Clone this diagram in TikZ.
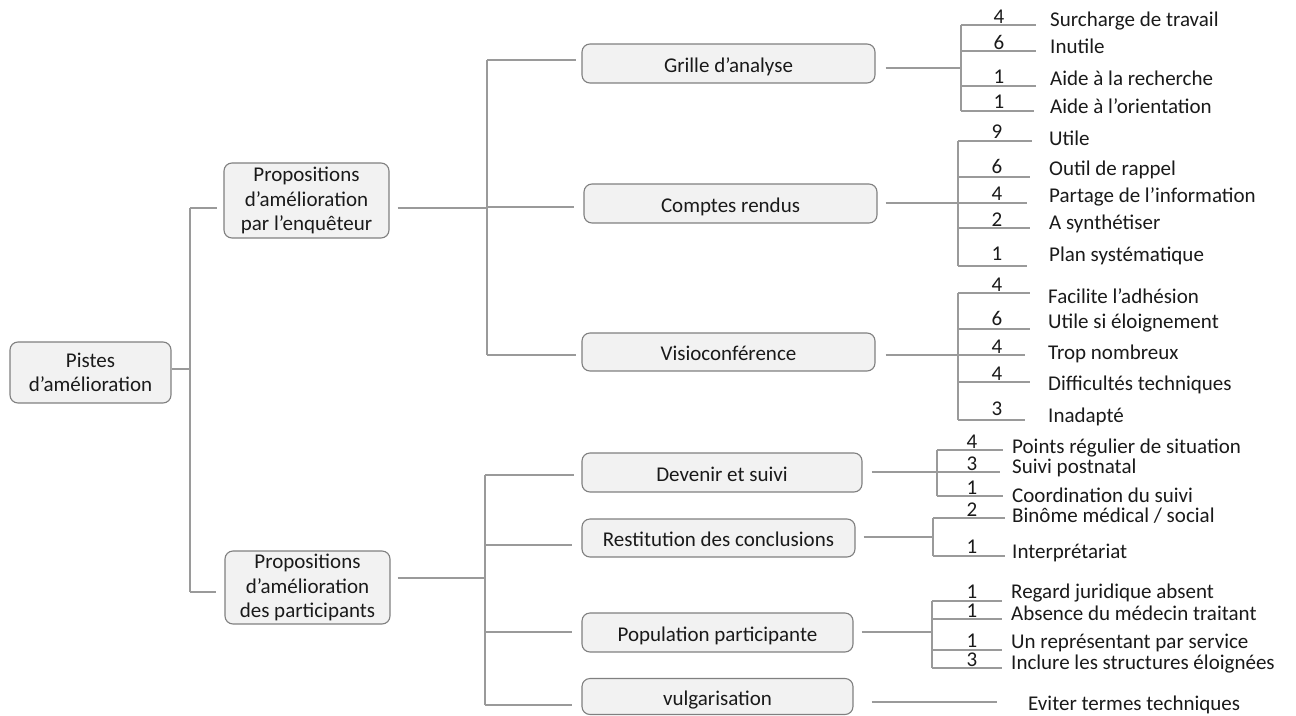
\documentclass[tikz,border=0pt]{standalone}
\usepackage{fontspec}
\setmainfont{Carlito}
\definecolor{linecol}{HTML}{9A9A9A}
\definecolor{boxborder}{HTML}{808080}
\definecolor{boxfill}{HTML}{F2F2F2}
\definecolor{txt}{HTML}{1A1A1A}
\tikzset{
  basefont/.style={font=\fontsize{21}{24.5}\selectfont, text=txt},
  box/.style={basefont, draw=boxborder, fill=boxfill, rounded corners=8pt, line width=1.1pt, inner sep=0pt, align=center},
  onebox/.style={box, text height=20pt, text depth=3pt},
  conn/.style={draw=linecol, line width=1.1pt},
  num/.style={basefont, anchor=base, inner sep=0pt},
  lbl/.style={basefont, anchor=base west, inner sep=0pt},
}
\newcommand\leafitem[9]{%
  \coordinate (#1a) at (#2,#3);
  \coordinate (#1b) at (#4,#3);
  \draw[conn] (#1a) -- (#1b);
  \node[num] (#1n) at (#5,#6) {#7};
  \node[lbl] (#1) at (\leafx,#8) {#9};
}
\begin{document}
\begin{tikzpicture}[x=1pt,y=-1pt]
\useasboundingbox (0,0) rectangle (1296,715);

% main boxes
\node[box, minimum width=161pt, minimum height=61pt] (root) at (90.5,372.5) {Pistes\\d’amélioration};
\node[box, minimum width=165pt, minimum height=75pt] (p1) at (306.5,200.5) {Propositions\\d’amélioration\\par l’enquêteur};
\node[box, minimum width=165pt, minimum height=73pt] (p2) at (307.5,587.5) {Propositions\\d’amélioration\\des participants};

\node[onebox, minimum width=293pt, minimum height=39pt] (grille) at (728.5,63.5) {Grille d’analyse};
\node[onebox, minimum width=293pt, minimum height=39pt] (comptes) at (730.5,203.5) {Comptes rendus};
\node[onebox, minimum width=293pt, minimum height=38pt] (visio) at (728.5,352) {Visioconférence};
\node[onebox, minimum width=280pt, minimum height=39pt] (devenir) at (722,472.5) {Devenir et suivi};
\node[onebox, minimum width=273pt, minimum height=38pt] (restit) at (718.5,538) {Restitution des conclusions};
\node[onebox, minimum width=271pt, minimum height=39pt] (popul) at (717.5,632.5) {Population participante};
\node[onebox, minimum width=271pt, minimum height=36pt] (vulg) at (717.5,696.5) {vulgarisation};

% root -> level 1
\coordinate (t0) at (190,369);
\coordinate (t1) at (190,208);
\coordinate (t2) at (190,592);
\draw[conn] (root.east |- t0) -- (t0);
\draw[conn] (t1) -- (t2);
\draw[conn, shorten >=6pt] (t1) -- (p1.west |- t1);
\draw[conn, shorten >=8pt] (t2) -- (p2.west |- t2);

% p1 -> level 2
\coordinate (u0) at (487,208);
\coordinate (u1) at (487,60);
\coordinate (u2) at (487,207);
\coordinate (u3) at (487,355);
\draw[conn, shorten <=8pt] (p1.east |- u0) -- (u0);
\draw[conn] (u1) -- (u3);
\draw[conn, shorten >=5pt] (u1) -- (grille.west |- u1);
\draw[conn, shorten >=9pt] (u2) -- (comptes.west |- u2);
\draw[conn, shorten >=5pt] (u3) -- (visio.west |- u3);

% p2 -> level 2
\coordinate (v0) at (485,578);
\coordinate (v1) at (485,475);
\coordinate (v2) at (485,545);
\coordinate (v3) at (485,632);
\coordinate (v4) at (485,705);
\draw[conn, shorten <=7pt] (p2.east |- v0) -- (v0);
\draw[conn] (v1) -- (v4);
\draw[conn, shorten >=7pt] (v1) -- (devenir.west |- v1);
\draw[conn, shorten >=9pt] (v2) -- (restit.west |- v2);
\draw[conn, shorten >=9pt] (v3) -- (popul.west |- v3);
\draw[conn, shorten >=9pt] (v4) -- (vulg.west |- v4);

% Grille leaves
\def\leafx{1050}
\leafitem{ga}{961}{25}{1036}{999}{23}{4}{26}{Surcharge de travail}
\leafitem{gb}{961}{51}{1036}{999}{49}{6}{53}{Inutile}
\leafitem{gc}{961}{86}{1036}{999}{83}{1}{85}{Aide à la recherche}
\leafitem{gd}{961}{111}{1034}{999}{108}{1}{113}{Aide à l’orientation}
\draw[conn] (gaa) -- (gda);
\coordinate (gj) at (961,68);
\draw[conn, shorten <=10pt] (grille.east |- gj) -- (gj);

% Comptes leaves
\def\leafx{1049}
\leafitem{ca}{958}{141}{1032}{997}{138}{9}{145}{Utile}
\leafitem{cb}{958}{177}{1030}{997}{173}{6}{175}{Outil de rappel}
\leafitem{cc}{958}{203}{1027}{997}{200}{4}{202}{Partage de l’information}
\leafitem{cd}{958}{228}{1030}{997}{226}{2}{229}{A synthétiser}
\leafitem{ce}{958}{266}{1027}{997}{260}{1}{261}{Plan systématique}
\draw[conn] (caa) -- (cea);
\draw[conn, shorten <=8pt] (comptes.east |- cca) -- (cca);

% Visio leaves
\def\leafx{1048}
\leafitem{va}{958}{293}{1030}{997}{291}{4}{303}{Facilite l’adhésion}
\leafitem{vb}{958}{329}{1030}{997}{325}{6}{328}{Utile si éloignement}
\leafitem{vc}{958}{355}{1025}{997}{353}{4}{359}{Trop nombreux}
\leafitem{vd}{958}{382}{1030}{997}{380}{4}{390}{Difficultés techniques}
\leafitem{ve}{958}{420}{1025}{997}{415}{3}{422}{Inadapté}
\draw[conn] (vaa) -- (vea);
\draw[conn, shorten <=10pt] (visio.east |- vca) -- (vca);

% Devenir leaves
\def\leafx{1012}
\leafitem{da}{937}{450}{1003}{972}{448}{4}{453}{Points régulier de situation}
\leafitem{db}{937}{472}{1000}{972}{470}{3}{473}{Suivi postnatal}
\leafitem{dc}{937}{496}{1003}{972}{494}{1}{502}{Coordination du suivi}
\draw[conn] (daa) -- (dca);
\draw[conn, shorten <=9pt] (devenir.east |- dba) -- (dba);

% Restitution leaves
\def\leafx{1012}
\leafitem{ra}{933}{518}{1005}{972}{516}{2}{522}{Binôme médical / social}
\leafitem{rb}{933}{556}{1005}{972}{553}{1}{558}{Interprétariat}
\draw[conn] (raa) -- (rba);
\coordinate (rj) at (933,537);
\draw[conn, shorten <=8pt] (restit.east |- rj) -- (rj);

% Population leaves
\def\leafx{1011}
\leafitem{pa}{932}{601}{1002}{972}{598}{1}{598}{Regard juridique absent}
\leafitem{pb}{932}{619}{1002}{972}{617}{1}{620}{Absence du médecin traitant}
\leafitem{pc}{932}{650}{1002}{972}{647}{1}{648}{Un représentant par service}
\leafitem{pd}{932}{668}{1002}{972}{666}{3}{669}{Inclure les structures éloignées}
\draw[conn] (paa) -- (pda);
\coordinate (pj) at (932,632);
\draw[conn, shorten <=8pt] (popul.east |- pj) -- (pj);

% Vulgarisation leaf
\node[lbl] (ev) at (1028,710) {Eviter termes techniques};
\coordinate (vj) at (997,702);
\draw[conn, shorten <=18pt] (vulg.east |- vj) -- (vj);
\end{tikzpicture}
\end{document}
